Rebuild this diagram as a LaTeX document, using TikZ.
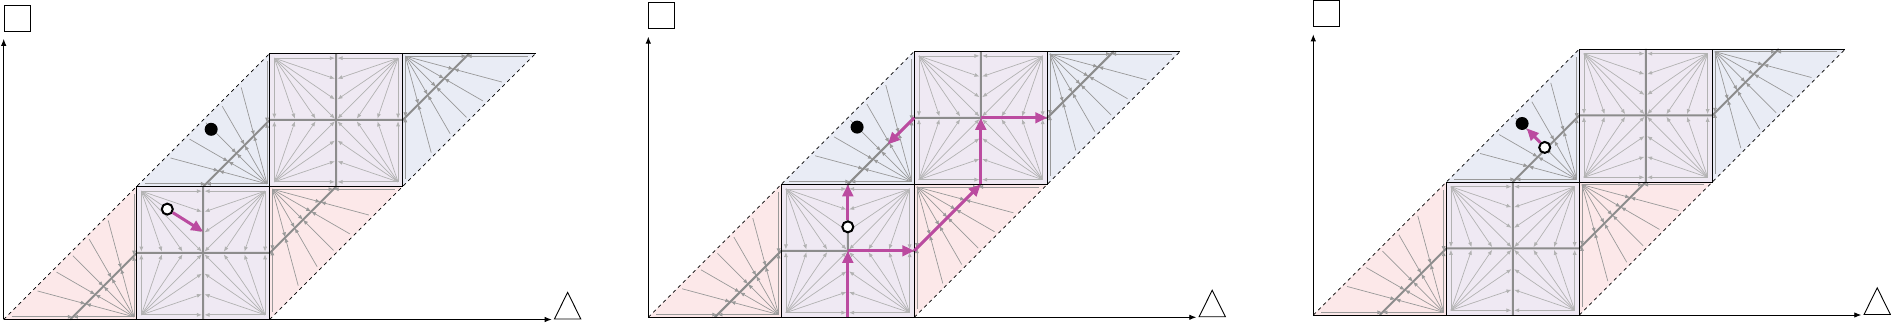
\documentclass[tikz,border=0pt]{standalone}
\usepackage{tikz}
\usetikzlibrary{shapes,arrows,arrows.meta,positioning,calc}
\definecolor{basinred}{RGB}{252,232,233}
\definecolor{basinblue}{RGB}{233,236,245}
\definecolor{basinmix}{RGB}{239,233,243}
\definecolor{pathcolor}{RGB}{187,75,160}

\begin{document}
\begin{tikzpicture}[
    x=1pt, y=1pt,
    fieldarrow/.style={-{Latex[length=5pt,width=4pt]}, black!30, line width=0.7pt},
    fanarrow/.style={-{Latex[length=5pt,width=4pt]}, black!40, line width=0.7pt},
    midline/.style={black!45, line width=2pt},
    border/.style={black, line width=0.9pt},
    edge/.style={black, line width=0.7pt, dash pattern=on 3.5pt off 3.5pt},
    axis/.style={-{Latex[length=7pt,width=5.5pt]}, black, line width=0.9pt},
    labelbox/.style={draw, line width=0.9pt, inner sep=0pt, minimum size=26pt},
    labeltri/.style={draw, regular polygon, regular polygon sides=3, line width=0.9pt,
        inner sep=0pt, minimum size=30.5pt, yscale=1.16},
    patharrow/.style={-{Triangle[length=12pt,width=10.5pt]}, pathcolor, line width=3pt},
    state/.style={circle, draw=black, line width=2pt, inner sep=0pt, minimum size=11pt, fill=white},
    target/.style={circle, fill=black, inner sep=0pt, minimum size=13pt}
]

\useasboundingbox (0,0) rectangle (1891,324);

% Three copies of the same phase plane
\foreach \ox/\oy/\p in {3.7/4.5/1, 648.3/6.7/2, 1313.3/9/3} {
\begin{scope}[shift={(\ox pt,\oy pt)}, x=133pt, y=133pt]

    % Basins
    \fill[basinred] (0,0) -- (1,1) -- (1,0) -- cycle;
    \fill[basinred] (2,0) -- (2,1) -- (3,1) -- cycle;
    \fill[basinblue] (1,1) -- (2,2) -- (2,1) -- cycle;
    \fill[basinblue] (3,1) -- (3,2) -- (4,2) -- cycle;
    \fill[basinmix] (1,0) rectangle (2,1);
    \fill[basinmix] (2,1) rectangle (3,2);

    % Field inside the two squares
    \foreach \cx/\cy in {1.5/0.5, 2.5/1.5}
        \foreach \rot in {0,90,180,270}
            \foreach \tx/\ty in {0.01/0.465, 0.01/0.31, 0.01/0.155, 0.01/0.01,
                                 0.155/0.01, 0.31/0.01, 0.465/0.01}
                \draw[fieldarrow, shift={(\cx,\cy)}, rotate=\rot] (0.465,0.465) -- (\tx,\ty);

    % Fans in the four triangles
    \foreach \cx/\cy/\a in {1/0/90, 2/1/90, 2/1/270, 3/2/270}
        \foreach \k in {0,...,6} {
            \pgfmathsetmacro\r{1/(cos(15*\k)+sin(15*\k))}
            \pgfmathsetmacro\mx{0.02+0.46*\r*cos(15*\k)}
            \pgfmathsetmacro\my{0.02+0.46*\r*sin(15*\k)}
            \pgfmathsetmacro\ex{0.02+0.92*\r*cos(15*\k)}
            \pgfmathsetmacro\ey{0.02+0.92*\r*sin(15*\k)}
            \draw[fanarrow, shift={(\cx,\cy)}, rotate=\a] (0.02,0.02) -- (\mx,\my);
            \draw[fanarrow, shift={(\cx,\cy)}, rotate=\a] (\ex,\ey) -- (\mx,\my);
        }

    % Switching lines
    \draw[midline] (0.5,0) -- (1,0.5) -- (2,0.5) -- (2.5,1) -- (2.5,2);
    \draw[midline] (1.5,0) -- (1.5,1) -- (2,1.5) -- (3,1.5) -- (3.5,2);

    % Squares and strip
    \draw[border] (1,0) rectangle (2,1);
    \draw[border] (2,1) rectangle (3,2);
    \draw[border] (3,2) -- (4,2);
    \draw[edge] (0,0) -- (2,2);
    \draw[edge] (2,0) -- (4,2);

    % Axes
    \draw[axis] (0,0) -- (0,2.11);
    \draw[axis] (0,0) -- (4.12,0);
    \node[labelbox, anchor=south west] (sq\p) at (0,2.165) {};
    \node[labeltri, anchor=south] (tri\p) at (4.24,0) {};

\end{scope}
}

% Left: one step
\begin{scope}[shift={(3.7pt,4.5pt)}, x=133pt, y=133pt]
    \node[target] (goal1) at (1.56,1.43) {};
    \node[state] (start1) at (1.23,0.83) {};
    \coordinate (hit1) at (1.5,0.66);
    \draw[patharrow] (start1) -- (hit1);
\end{scope}

% Middle: sliding paths
\begin{scope}[shift={(648.3pt,6.7pt)}, x=133pt, y=133pt]
    \node[target] (goal2) at (1.57,1.43) {};
    \coordinate (a0) at (1.5,0);
    \coordinate (a1) at (1.5,0.5);
    \coordinate (a2) at (2,0.5);
    \coordinate (a3) at (2.5,1);
    \coordinate (a4) at (2.5,1.5);
    \coordinate (a5) at (3,1.5);
    \coordinate (b0) at (2,1.5);
    \coordinate (b1) at (1.8,1.3);
    \coordinate (c1) at (1.5,1);
    \draw[patharrow] (a0) -- (a1);
    \draw[patharrow] (a1) -- (a2);
    \draw[patharrow] (a2) -- (a3);
    \draw[patharrow] (a3) -- (a4);
    \draw[patharrow] (a4) -- (a5);
    \draw[patharrow] (b0) -- (b1);
    \node[state] (start2) at (1.5,0.68) {};
    \draw[patharrow] (start2) -- (c1);
\end{scope}

% Right: close to the target
\begin{scope}[shift={(1313.3pt,9pt)}, x=133pt, y=133pt]
    \node[target] (goal3) at (1.57,1.44) {};
    \node[state] (start3) at (1.74,1.26) {};
    \draw[patharrow] (start3) -- (goal3);
\end{scope}

\end{tikzpicture}
\end{document}
